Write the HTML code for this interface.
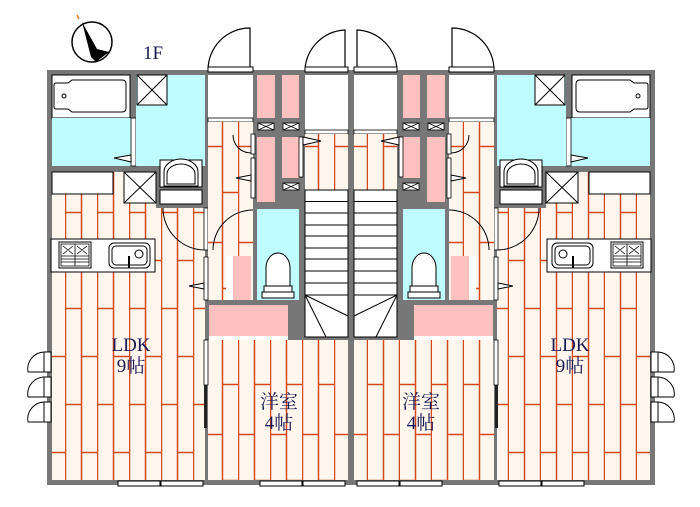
<!DOCTYPE html>
<html><head><meta charset="utf-8"><style>
html,body{margin:0;padding:0;background:#fff;}
svg{display:block;}
.t{font-family:"Liberation Serif","Noto Serif CJK SC",serif;font-size:19px;fill:#1a1a55;text-anchor:middle;}
</style></head><body>
<svg width="700" height="507" viewBox="0 0 700 507" xmlns="http://www.w3.org/2000/svg">
<defs>
<pattern id="fa" x="1" y="0" width="32" height="96" patternUnits="userSpaceOnUse">
<rect width="32" height="96" fill="#fff7ee"/>
<path d="M0.5 0V96M16.5 0V96M0 20.5H16M16 68.5H32" stroke="#d4481a" stroke-width="1.5"/>
</pattern>
<pattern id="fb" x="14" y="10" width="32" height="96" patternUnits="userSpaceOnUse">
<rect width="32" height="96" fill="#fff7ee"/>
<path d="M0.5 0V96M16.5 0V96M0 40.5H16M16 86.5H32" stroke="#d4481a" stroke-width="1.5"/>
</pattern>
<g id="half">
<rect x="47" y="70" width="304" height="415" fill="#777"/>
<path d="M208 70A42 42 0 0 1 250 28V70" fill="none" stroke="#000" stroke-width="1.2"/>
<path d="M305 70A42 42 0 0 1 345 30V70" fill="none" stroke="#000" stroke-width="1.2"/>
<rect x="208" y="67" width="45" height="5" fill="#fff" stroke="#000" stroke-width="1"/>
<rect x="305" y="67" width="43" height="5" fill="#fff" stroke="#000" stroke-width="1"/>
<rect x="52" y="75" width="78" height="43" fill="#fff" stroke="#000"/>
<path d="M56 83h12l4-3h50q4 0 4 4v24q0 4-4 4h-50l-4-3h-12q-2 0-2-2v-22q0-2 2-2z" fill="#fff" stroke="#000"/>
<circle cx="64" cy="96" r="2" fill="none" stroke="#000"/>
<rect x="52" y="118" width="80" height="48" fill="#bffcff"/>
<rect x="131" y="118" width="5" height="48" fill="#fff" stroke="#000" stroke-width="0.8"/>
<path d="M131 155l-17 3l17 4z" fill="#fff" stroke="#000"/>
<rect x="136" y="75" width="69" height="91" fill="#bffcff"/>
<rect x="137" y="75" width="30" height="30" fill="#fff" stroke="#000"/>
<path d="M137 75L167 105M167 75L137 105" stroke="#000"/>
<rect x="52" y="172" width="153" height="308" fill="url(#fa)"/>
<rect x="156" y="166" width="49" height="42" fill="#777"/>
<rect x="52" y="172" width="61" height="22" fill="#fff" stroke="#000"/>
<rect x="124" y="172" width="32" height="31" fill="#fff" stroke="#000"/>
<path d="M124 172L156 203M156 172L124 203" stroke="#000"/>
<rect x="160" y="160" width="42" height="27" fill="#fff" stroke="#000"/>
<path d="M164 186v-14a17 13 0 0 1 34 0v14z" fill="#fff" stroke="#000"/>
<path d="M167 184v-10a14 10 0 0 1 28 0v10z" fill="none" stroke="#000"/>
<rect x="160" y="190" width="42" height="14" fill="#fff" stroke="#000"/>
<rect x="51" y="239" width="104" height="33" fill="#fff" stroke="#000"/>
<rect x="59" y="242" width="32" height="26" fill="#fff" stroke="#000"/>
<path d="M61 244h28v22h-28zM75 244v22M61 256h28M61 259h28M61 262h28M63 246l10 8M73 246l-10 8M77 246l10 8M87 246l-10 8" fill="none" stroke="#000" stroke-width="0.8"/>
<rect x="109" y="243" width="41" height="25" rx="5" fill="#fff" stroke="#000"/>
<rect x="112" y="246" width="35" height="19" rx="4" fill="none" stroke="#000"/>
<circle cx="139" cy="254" r="4" fill="none" stroke="#000"/>
<path d="M129 256v12" stroke="#000" stroke-width="2"/>
<path d="M163 208A42 42 0 0 0 205 250" fill="none" stroke="#000"/>
<rect x="204" y="208" width="4" height="42" fill="#fff" stroke="#000" stroke-width="0.8"/>
<g fill="#fff" stroke="#000" stroke-width="1">
<path d="M28 372A17 17 0 0 1 44 352" fill="none"/><rect x="44" y="352" width="7" height="20"/><path d="M28 372H44"/>
<path d="M28 397A17 17 0 0 1 44 377" fill="none"/><rect x="44" y="377" width="7" height="20"/><path d="M28 397H44"/>
<path d="M28 422A17 17 0 0 1 44 402" fill="none"/><rect x="44" y="402" width="7" height="20"/><path d="M28 422H44"/>
<rect x="118" y="481" width="42" height="5"/><rect x="161" y="481" width="42" height="5"/>
<rect x="260" y="481" width="42" height="5"/><rect x="303" y="481" width="42" height="5"/>
</g>
<rect x="208" y="75" width="45" height="43" fill="#fff"/>
<rect x="208" y="118" width="45" height="4" fill="#fff" stroke="#000" stroke-width="0.8"/>
<rect x="208" y="122" width="45" height="133" fill="url(#fb)"/>
<path d="M233 135A18 18 0 0 0 251 153" fill="none" stroke="#000"/>
<rect x="251" y="134" width="4" height="20" fill="#fff" stroke="#000" stroke-width="0.8"/>
<rect x="251" y="158" width="4" height="40" fill="#fff" stroke="#000" stroke-width="0.8"/>
<path d="M251 175l-15 3l15 3z" fill="#fff" stroke="#000"/>
<path d="M253 210A40 40 0 0 0 213 250" fill="none" stroke="#000"/>
<rect x="208" y="255" width="45" height="45" fill="url(#fb)"/>
<rect x="226" y="256" width="7" height="44" fill="#fff"/>
<rect x="233" y="256" width="18" height="44" fill="#ffc0c0"/>
<rect x="204" y="257" width="4" height="43" fill="#fff" stroke="#000" stroke-width="0.8"/>
<path d="M204 283l-15 3l15 3z" fill="#fff" stroke="#000"/>
<rect x="257" y="75" width="18" height="43" fill="#ffc0c0"/>
<rect x="282" y="75" width="17" height="43" fill="#ffc0c0"/>
<g fill="#fff" stroke="#000" stroke-width="0.8">
<rect x="258" y="123" width="16" height="7"/><path d="M258 123l16 7M274 123l-16 7"/>
<rect x="283" y="123" width="16" height="7"/><path d="M283 123l16 7M299 123l-16 7"/>
<rect x="283" y="183" width="16" height="7"/><path d="M283 183l16 7M299 183l-16 7"/>
</g>
<rect x="257" y="137" width="18" height="65" fill="#ffc0c0"/>
<rect x="282" y="137" width="17" height="41" fill="#ffc0c0"/>
<rect x="299" y="137" width="4" height="40" fill="#fff" stroke="#000" stroke-width="0.8"/>
<rect x="305" y="75" width="43" height="55" fill="#fff"/>
<rect x="305" y="130" width="43" height="4" fill="#fff" stroke="#000" stroke-width="0.8"/>
<rect x="305" y="134" width="43" height="56" fill="url(#fb)"/>
<path d="M303 137l18 4l-18 4z" fill="#fff" stroke="#000"/>
<rect x="257" y="209" width="42" height="91" fill="#bffcff"/>
<path d="M266 286v-18a12 15 0 0 1 24 0v18z" fill="#fff" stroke="#000"/>
<rect x="264" y="286" width="28" height="6" fill="#fff" stroke="#000"/>
<rect x="262" y="292" width="32" height="6" fill="#fff" stroke="#000"/>
<rect x="305" y="190" width="43" height="147" fill="#fff" stroke="#000"/>
<path d="M305 201.5H348M305 213H348M305 225H348M305 236H348M305 248H348M305 259H348M305 271H348M305 283H348M305 295H348M305 295L348 316M305 295L326 337" stroke="#000" fill="none"/>
<rect x="209" y="305" width="79" height="31" fill="#ffc0c0"/>
<rect x="209" y="336" width="79" height="4" fill="#fff"/>
<rect x="208" y="340" width="140" height="140" fill="url(#fb)"/>
<rect x="204" y="340" width="4" height="45" fill="#fff" stroke="#000" stroke-width="0.8"/>
<rect x="204" y="385" width="3" height="43" fill="#222"/>
</g>
</defs>
<use href="#half"/>
<use href="#half" transform="translate(702,0) scale(-1,1)"/>
<circle cx="92" cy="42" r="20" fill="#fff" stroke="#000" stroke-width="1.5"/>
<path d="M82 22L97 49L109 52L96 62L91 57z" fill="#000"/>
<path d="M77 15l2 4" stroke="#d08020" stroke-width="1.5"/>
<text x="153" y="59" class="t">1F</text>
<text x="131" y="351" class="t">LDK</text><text x="131" y="372" class="t">9帖</text>
<text x="570" y="351" class="t">LDK</text><text x="570" y="372" class="t">9帖</text>
<text x="279" y="408" class="t">洋室</text><text x="279" y="429" class="t">4帖</text>
<text x="421" y="408" class="t">洋室</text><text x="421" y="429" class="t">4帖</text>
</svg>
</body></html>
